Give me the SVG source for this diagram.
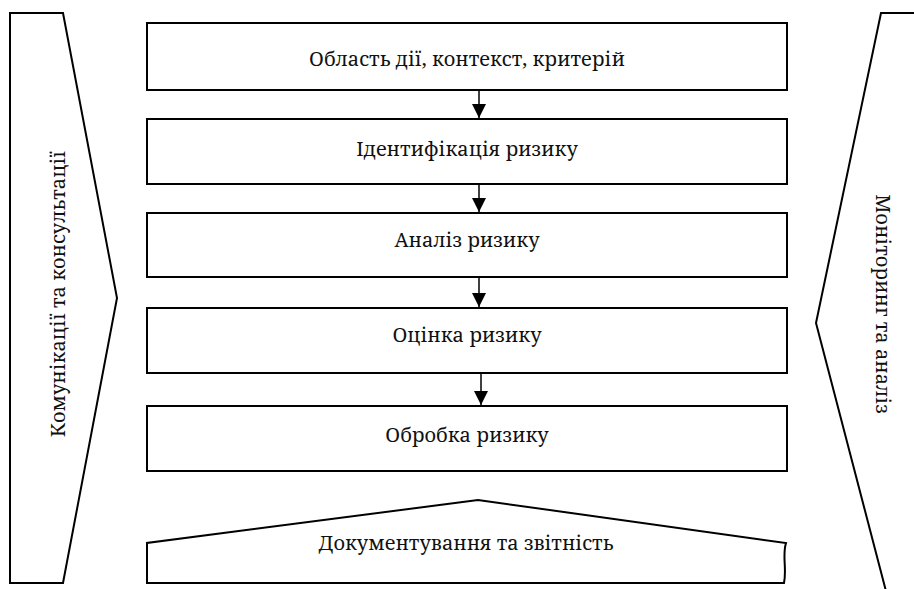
<svg xmlns="http://www.w3.org/2000/svg" width="914" height="589" viewBox="0 0 914 589">
<style>
.s{fill:#fff;stroke:#000;stroke-width:2;stroke-linejoin:miter}
.t{font-family:"Noto Serif","DejaVu Serif",serif;font-size:20px;fill:#111;text-anchor:middle}
.c{stroke:#000;stroke-width:1.5;fill:none}
</style>
<defs>
<marker id="ah" viewBox="0 0 14 14" refX="14" refY="7" markerWidth="14" markerHeight="14" markerUnits="userSpaceOnUse" orient="auto">
<path d="M0,0 L14,7 L0,14 Z" fill="#000"/>
</marker>
</defs>
<rect width="914" height="589" fill="#fff"/>
<g id="comm">
<polygon class="s" points="10,13 63,13 117,298 63,583 10,583"/>
<text class="t" transform="translate(65,294) rotate(-90)">Комунікації та консультації</text>
</g>
<g id="monitor">
<polyline class="s" points="920,13 881,13 816,323 887,595"/>
<text class="t" transform="translate(876,304) rotate(90)">Моніторинг та аналіз</text>
</g>
<g id="doc">
<path class="s" d="M147,583 L147,543 L478,500 L786,543 C782,556 787,568 784,583 Z"/>
<text class="t" x="466" y="550">Документування та звітність</text>
</g>
<g id="b1">
<rect class="s" x="147" y="23" width="640" height="67"/>
<text class="t" x="467" y="66">Область дії, контекст, критерій</text>
</g>
<g id="b2">
<rect class="s" x="147" y="119" width="640" height="65"/>
<text class="t" x="467" y="156">Ідентифікація ризику</text>
</g>
<g id="b3">
<rect class="s" x="147" y="213" width="640" height="64"/>
<text class="t" x="467" y="247">Аналіз ризику</text>
</g>
<g id="b4">
<rect class="s" x="147" y="308" width="640" height="65"/>
<text class="t" x="467" y="342">Оцінка ризику</text>
</g>
<g id="b5">
<rect class="s" x="147" y="406" width="640" height="65"/>
<text class="t" x="467" y="442">Обробка ризику</text>
</g>
<g id="connectors">
<line class="c" x1="479" y1="91" x2="479" y2="118" marker-end="url(#ah)"/>
<line class="c" x1="479" y1="185" x2="479" y2="212" marker-end="url(#ah)"/>
<line class="c" x1="479" y1="278" x2="479" y2="307" marker-end="url(#ah)"/>
<line class="c" x1="481" y1="374" x2="481" y2="405" marker-end="url(#ah)"/>
</g>
</svg>
